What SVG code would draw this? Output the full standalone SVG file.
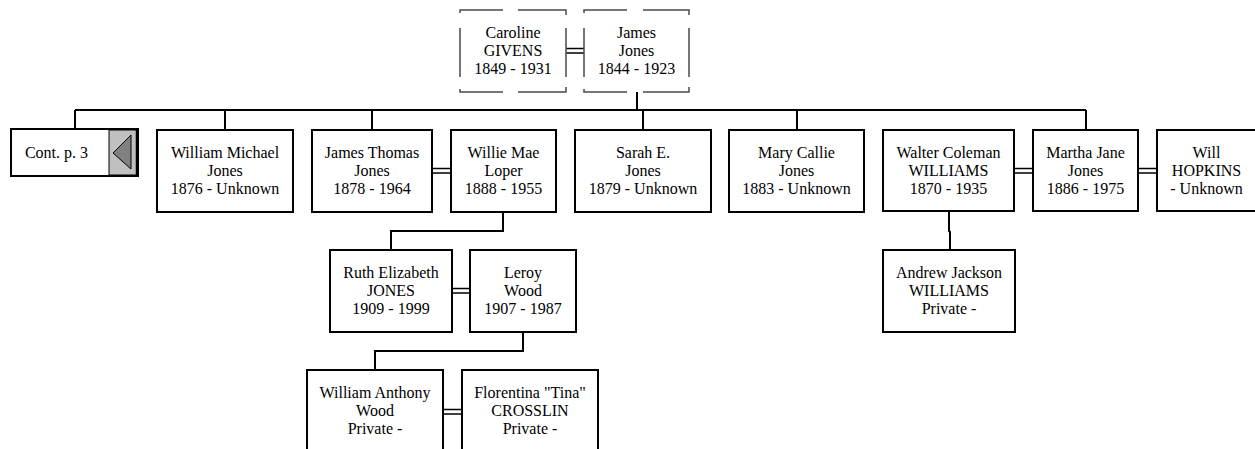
<svg xmlns="http://www.w3.org/2000/svg" width="1255" height="449" viewBox="0 0 1255 449">
<style>
  .box { fill: #ffffff; stroke: #000000; stroke-width: 2; }
  .dash { fill: none; stroke: #4a4a4a; stroke-width: 1.5; }
  .conn { fill: none; stroke: #000000; stroke-width: 2; }
  .dbl { fill: none; stroke: #000000; stroke-width: 1.5; }
  text { font-family: "Liberation Serif", "Times New Roman", serif; font-size: 16px; fill: #000000; text-anchor: middle; }
</style>
<rect width="1255" height="449" fill="#ffffff"/>

<g id="connectors">
  <path class="conn" d="M637,92 V110"/>
  <path class="conn" d="M75,110 H1086"/>
  <path class="conn" d="M75,110 V129 M225,110 V130 M372,110 V130 M643,110 V130 M797,110 V130 M1086,110 V130"/>
  <path class="conn" d="M503,212 V231 H391 V250"/>
  <path class="conn" d="M523,332 V351 H375 V370"/>
  <path class="conn" d="M949,211 V231 L950,232 V250"/>
  <path class="dbl" d="M566,48.5 H584 M566,53 H584"/>
  <path class="dbl" d="M432,168.5 H451 M432,173 H451"/>
  <path class="dbl" d="M1014,168.5 H1033 M1014,173 H1033"/>
  <path class="dbl" d="M1138,168.5 H1157 M1138,173 H1157"/>
  <path class="dbl" d="M452,288.5 H470 M452,293 H470"/>
  <path class="dbl" d="M443,409.5 H462 M443,414 H462"/>
</g>

<g id="caroline">
  <path class="dash" d="M460,13 V10 H503 M518,10 H566 V15 M566,28 V77 M566,87 V92 H518 M503,92 H460 V89 M460,77 V28"/>
  <text x="513" y="38">Caroline</text>
  <text x="513" y="56">GIVENS</text>
  <text x="513" y="74">1849 - 1931</text>
</g>

<g id="james">
  <path class="dash" d="M584,13 V10 H627 M643,10 H689 V15 M689,28 V77 M689,87 V92 H643 M627,92 H584 V89 M584,77 V28"/>
  <text x="636.5" y="38">James</text>
  <text x="636.5" y="56">Jones</text>
  <text x="636.5" y="74">1844 - 1923</text>
</g>

<g id="cont">
  <rect class="box" x="11" y="129" width="127" height="47"/>
  <rect x="109" y="130" width="28" height="45" fill="#c0c0c0" stroke="#000000" stroke-width="1"/>
  <line x1="136.5" y1="130" x2="136.5" y2="175" stroke="#000000" stroke-width="1.5"/>
  <polygon points="113,153 131,135 131,169" fill="#808080" stroke="#000000" stroke-width="1"/>
  <text x="56.5" y="158">Cont. p. 3</text>
</g>

<g id="william_michael">
  <rect class="box" x="157" y="130" width="136" height="82"/>
  <text x="225" y="158">William Michael</text>
  <text x="225" y="176">Jones</text>
  <text x="225" y="194">1876 - Unknown</text>
</g>

<g id="james_thomas">
  <rect class="box" x="312" y="130" width="120" height="82"/>
  <text x="372" y="158">James Thomas</text>
  <text x="372" y="176">Jones</text>
  <text x="372" y="194">1878 - 1964</text>
</g>

<g id="willie_mae">
  <rect class="box" x="451" y="130" width="105" height="82"/>
  <text x="503.5" y="158">Willie Mae</text>
  <text x="503.5" y="176">Loper</text>
  <text x="503.5" y="194">1888 - 1955</text>
</g>

<g id="sarah">
  <rect class="box" x="575" y="130" width="136" height="82"/>
  <text x="643" y="158">Sarah E.</text>
  <text x="643" y="176">Jones</text>
  <text x="643" y="194">1879 - Unknown</text>
</g>

<g id="mary_callie">
  <rect class="box" x="729" y="130" width="135" height="82"/>
  <text x="796.5" y="158">Mary Callie</text>
  <text x="796.5" y="176">Jones</text>
  <text x="796.5" y="194">1883 - Unknown</text>
</g>

<g id="walter">
  <rect class="box" x="883" y="130" width="131" height="81"/>
  <text x="948.5" y="158">Walter Coleman</text>
  <text x="948.5" y="176">WILLIAMS</text>
  <text x="948.5" y="194">1870 - 1935</text>
</g>

<g id="martha">
  <rect class="box" x="1033" y="130" width="105" height="81"/>
  <text x="1085.5" y="158">Martha Jane</text>
  <text x="1085.5" y="176">Jones</text>
  <text x="1085.5" y="194">1886 - 1975</text>
</g>

<g id="will_hopkins">
  <rect class="box" x="1157" y="130" width="110" height="81"/>
  <text x="1206.5" y="158">Will</text>
  <text x="1206.5" y="176">HOPKINS</text>
  <text x="1206.5" y="194">- Unknown</text>
</g>

<g id="ruth">
  <rect class="box" x="330" y="250" width="122" height="82"/>
  <text x="391" y="278">Ruth Elizabeth</text>
  <text x="391" y="296">JONES</text>
  <text x="391" y="314">1909 - 1999</text>
</g>

<g id="leroy">
  <rect class="box" x="470" y="250" width="106" height="82"/>
  <text x="523" y="278">Leroy</text>
  <text x="523" y="296">Wood</text>
  <text x="523" y="314">1907 - 1987</text>
</g>

<g id="andrew">
  <rect class="box" x="883" y="250" width="132" height="82"/>
  <text x="949" y="278">Andrew Jackson</text>
  <text x="949" y="296">WILLIAMS</text>
  <text x="949" y="314">Private -</text>
</g>

<g id="william_anthony">
  <rect class="box" x="307" y="370" width="136" height="85"/>
  <text x="375" y="398">William Anthony</text>
  <text x="375" y="416">Wood</text>
  <text x="375" y="434">Private -</text>
</g>

<g id="florentina">
  <rect class="box" x="462" y="370" width="136" height="85"/>
  <text x="530" y="398">Florentina "Tina"</text>
  <text x="530" y="416">CROSSLIN</text>
  <text x="530" y="434">Private -</text>
</g>
</svg>
